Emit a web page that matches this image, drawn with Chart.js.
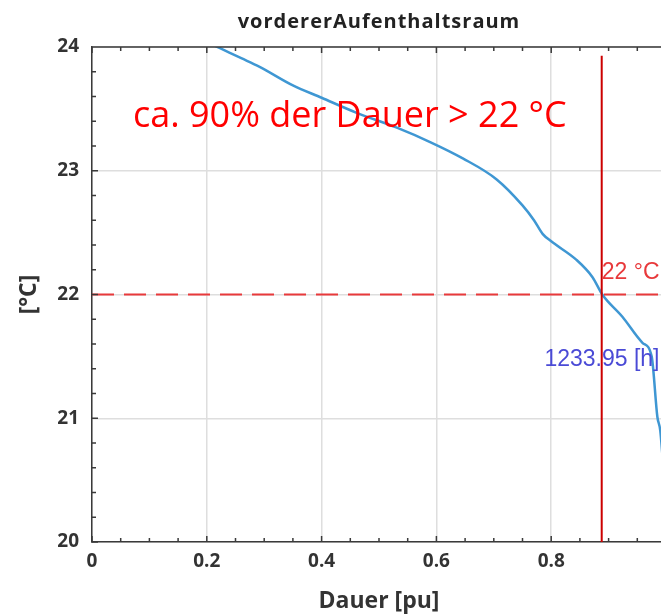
<!DOCTYPE html>
<html>
<head>
<meta charset="utf-8">
<script src="https://cdn.jsdelivr.net/npm/chart.js@4"></script>
<style>
  html, body { margin: 0; padding: 0; background: #fff; overflow: hidden; }
  #wrap { width: 661px; height: 616px; overflow: hidden; }
  canvas { display: block; }
</style>
</head>
<body>
<div id="wrap"><canvas id="chart" width="700" height="616"></canvas></div>
<script>
// Dauerlinie vordererAufenthaltsraum (sorted temperatures over duration)
const dauer = [0.20, 0.223, 0.26, 0.292, 0.35, 0.40, 0.46, 0.53, 0.59, 0.646, 0.705, 0.75, 0.77, 0.785, 0.80, 0.844, 0.872, 0.889, 0.924, 0.959, 0.975, 0.985, 0.99, 1.0];
const temp  = [24.04, 23.99, 23.91, 23.84, 23.69, 23.59, 23.47, 23.35, 23.23, 23.10, 22.93, 22.72, 22.60, 22.49, 22.43, 22.28, 22.14, 22.00, 21.82, 21.61, 21.50, 21.01, 20.90, 20.30];

const xTicks = [0, 0.2, 0.4, 0.6, 0.8];
const yTicks = [20, 21, 22, 23, 24];

const grenzTemp = 22;          // red dashed limit
const grenzDauer = 0.888;      // red vertical marker
const markerTop = 23.93;
const grenzLabel = "22 °C";
const stundenLabel = "1233.95 [h]";
const hinweis = "ca. 90% der Dauer > 22 °C";
const titel = "vordererAufenthaltsraum";

const curve = dauer.map((d, i) => ({ x: d, y: temp[i] }));

const boxPlugin = {
  id: 'box',
  afterDatasetsDraw(chart) {
    const { ctx, scales: { x, y } } = chart;
    ctx.save();
    ctx.textBaseline = 'alphabetic';
    // big note
    ctx.fillStyle = '#ff0000';
    ctx.font = '36px "Open Sans"';
    ctx.textAlign = 'left';
    ctx.fillText(hinweis, x.getPixelForValue(0.0714), y.getPixelForValue(23.351));
    // limit label
    ctx.fillStyle = '#e8393b';
    ctx.font = '23px "Liberation Sans"';
    ctx.fillText(grenzLabel, x.getPixelForValue(grenzDauer), y.getPixelForValue(22.125));
    // hours label
    ctx.fillStyle = '#4a4ad6';
    ctx.textAlign = 'right';
    ctx.fillText(stundenLabel, x.getPixelForValue(0.9887), y.getPixelForValue(21.42));
    ctx.restore();
  },
  afterDraw(chart) {
    const { ctx, chartArea: a, scales: { x, y } } = chart;
    ctx.save();
    ctx.strokeStyle = '#3a3a3a';
    ctx.lineWidth = 1.5;
    ctx.beginPath();
    for (let i = 0; i <= 20; i++) {
      const px = x.getPixelForValue(i * 0.05);
      const len = i % 4 === 0 ? 6 : 4;
      ctx.moveTo(px, a.bottom); ctx.lineTo(px, a.bottom - len);
      ctx.moveTo(px, a.top); ctx.lineTo(px, a.top + len);
    }
    for (let i = 0; i <= 20; i++) {
      const py = y.getPixelForValue(20 + i * 0.2);
      const len = i % 5 === 0 ? 6 : 4;
      ctx.moveTo(a.left, py); ctx.lineTo(a.left + len, py);
    }
    ctx.moveTo(a.left, a.top); ctx.lineTo(a.right, a.top);
    ctx.stroke();
    // title
    ctx.fillStyle = '#222';
    ctx.font = 'bold 20px "Open Sans"';
    ctx.letterSpacing = '1px';
    ctx.textAlign = 'center';
    ctx.textBaseline = 'middle';
    ctx.fillText(titel, (a.left + a.right) / 2, 22);
    ctx.restore();
  }
};

new Chart(document.getElementById('chart'), {
  type: 'line',
  data: {
    datasets: [
      {
        data: [{ x: grenzDauer, y: 20 }, { x: grenzDauer, y: markerTop }],
        borderColor: '#cc0000',
        borderWidth: 2,
        pointRadius: 0
      },
      {
        data: [{ x: 0, y: grenzTemp }, { x: 1, y: grenzTemp }],
        borderColor: '#e8393b',
        borderWidth: 2,
        borderDash: [22, 10],
        pointRadius: 0
      },
      {
        data: curve,
        borderColor: '#3f97d3',
        borderWidth: 2.5,
        pointRadius: 0,
        cubicInterpolationMode: 'monotone'
      }
    ]
  },
  options: {
    responsive: false,
    animation: false,
    layout: { padding: { top: 47, right: 34, left: 0, bottom: 0 } },
    plugins: { legend: { display: false }, tooltip: { enabled: false }, title: { display: false } },
    scales: {
      x: {
        type: 'linear',
        min: 0, max: 1,
        afterBuildTicks: s => { s.ticks = xTicks.map(v => ({ value: v })); },
        afterFit: s => { s.height = 74; },
        grid: { color: '#dedede', lineWidth: 1.5, drawTicks: false },
        border: { color: '#3a3a3a', width: 1.5 },
        ticks: { padding: 8, color: '#333', font: { family: 'Open Sans', weight: 'bold', size: 19 } },
        title: { display: true, text: 'Dauer [pu]', color: '#333', padding: { top: 0, bottom: 1 },
                 font: { family: 'Open Sans', weight: 'bold', size: 23 } }
      },
      y: {
        min: 20, max: 24,
        afterBuildTicks: s => { s.ticks = yTicks.map(v => ({ value: v })); },
        afterFit: s => { s.width = 92; },
        grid: { color: '#dedede', lineWidth: 1.5, drawTicks: false },
        border: { color: '#3a3a3a', width: 1.5 },
        ticks: { padding: 13, color: '#333', font: { family: 'Open Sans', weight: 'bold', size: 19 } },
        title: { display: true, text: '[°C]', color: '#333', padding: { top: 16, bottom: 0 },
                 font: { family: 'Open Sans', weight: 'bold', size: 23 } }
      }
    }
  },
  plugins: [boxPlugin]
});
</script>
</body>
</html>
